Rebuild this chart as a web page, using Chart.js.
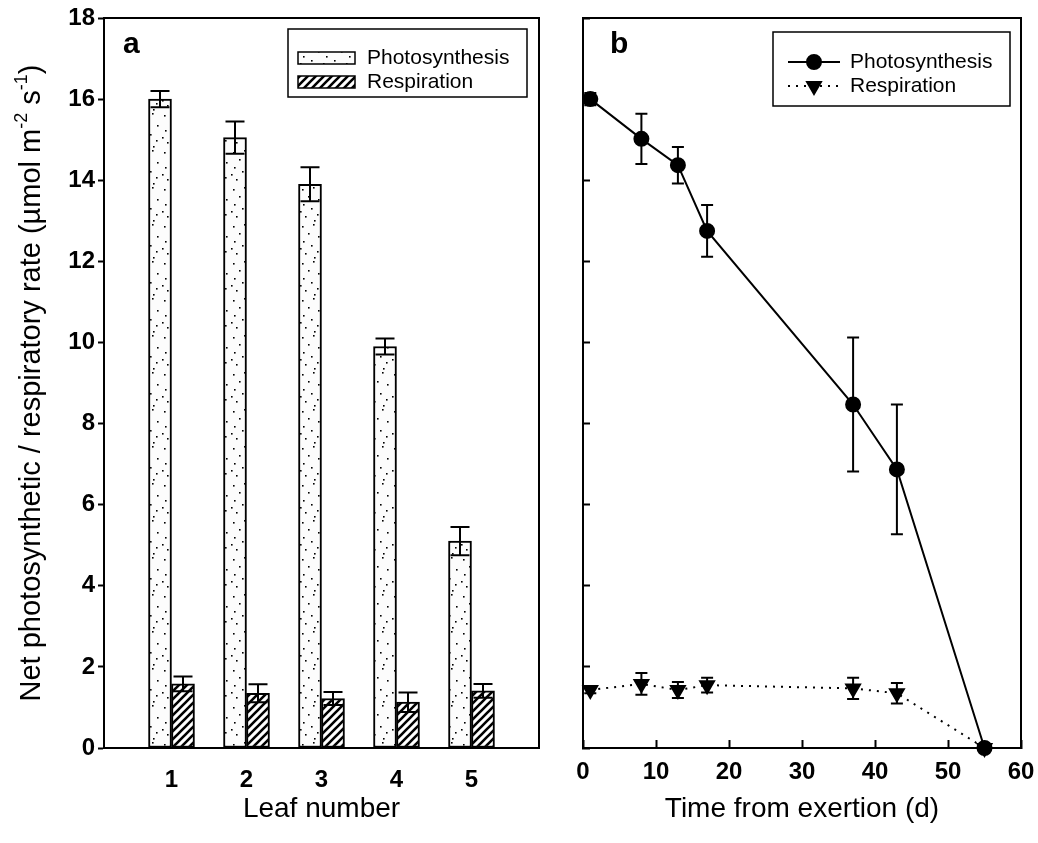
<!DOCTYPE html>
<html>
<head>
<meta charset="utf-8">
<script src="https://cdn.jsdelivr.net/npm/chart.js@4.4.1/dist/chart.umd.min.js"></script>
<style>
    html, body { margin: 0; padding: 0; background: #fff; }
    #wrap { position: relative; width: 1038px; height: 843px; }
    #boxA { position: absolute; left: 0; top: 0; width: 560px; height: 843px; }
    #boxB { position: absolute; left: 560px; top: 0; width: 478px; height: 843px; }
</style>
</head>
<body>
<div id="wrap">
    <div id="boxA"><canvas id="chartA" width="560" height="843"></canvas></div>
    <div id="boxB"><canvas id="chartB" width="478" height="843"></canvas></div>
</div>
<script>
// ==========================================================================================================
// -- Data --
// ==========================================================================================================

// Panel a : by leaf number
const leafNumbers = [1, 2, 3, 4, 5];
const leafPhoto = [16.0, 15.05, 13.9, 9.9, 5.1];
const leafPhotoErr = [0.2, 0.4, 0.42, 0.2, 0.35];
const leafResp = [1.58, 1.35, 1.22, 1.13, 1.41];
const leafRespErr = [0.18, 0.22, 0.16, 0.24, 0.17];

// Panel b : time from exertion
const days = [1, 8, 13, 17, 37, 43, 55];
const dayPhoto = [16.0, 15.02, 14.37, 12.75, 8.47, 6.87, 0];
const dayPhotoErr = [0.15, 0.62, 0.45, 0.64, 1.65, 1.6, 0];
const dayResp = [1.43, 1.58, 1.43, 1.55, 1.47, 1.35, 0];
const dayRespErr = [0.08, 0.27, 0.2, 0.18, 0.26, 0.25, 0];

// Tick labels
const rateTicks = [0, 2, 4, 6, 8, 10, 12, 14, 16, 18];
const dayTicks = [0, 10, 20, 30, 40, 50, 60];

// ==========================================================================================================
// -- Styles --
// ==========================================================================================================

const FAMILY = "'Liberation Sans', Arial, sans-serif";
const tickFont = { family: FAMILY, size: 24, weight: 'bold' };
const titleFont = { family: FAMILY, size: 28 };

// Stipple fill for photosynthesis bars ------------------------------------------------------------
function makeDots() {
    const c = document.createElement('canvas');
    c.width = 23; c.height = 37;
    const g = c.getContext('2d');
    g.fillStyle = '#fcfcfc';
    g.fillRect(0, 0, c.width, c.height);
    g.fillStyle = '#000';
    const dots = [[3, 4], [14, 2], [9, 11], [19, 14], [4, 19], [12, 23], [18, 29], [6, 31], [15, 35], [1, 26]];
    dots.forEach(([x, y]) => g.fillRect(x, y, 1.6, 1.6));
    return g.createPattern(c, 'repeat');
}

// Diagonal hatch for respiration bars -------------------------------------------------------------
function makeHatch() {
    const c = document.createElement('canvas');
    c.width = 8; c.height = 8;
    const g = c.getContext('2d');
    g.fillStyle = '#fff';
    g.fillRect(0, 0, 8, 8);
    g.strokeStyle = '#000';
    g.lineWidth = 2.6;
    g.beginPath();
    g.moveTo(-1, 9); g.lineTo(9, -1);
    g.moveTo(-1, 1); g.lineTo(1, -1);
    g.moveTo(7, 9); g.lineTo(9, 7);
    g.stroke();
    return g.createPattern(c, 'repeat');
}

const dotFill = makeDots();
const hatchFill = makeHatch();

// ==========================================================================================================
// -- Plugins --
// ==========================================================================================================

// Error bars ---------------------------------------------------------------------------------------
function drawErrors(chart) {
    const ctx = chart.ctx;
    const yScale = chart.scales.y;
    chart.data.datasets.forEach((ds, di) => {
        if (!ds.errors) return;
        const meta = chart.getDatasetMeta(di);
        meta.data.forEach((el, i) => {
            const err = ds.errors[i];
            if (!err) return;
            const v = ds.data[i].y;
            const top = yScale.getPixelForValue(v + err);
            const bot = yScale.getPixelForValue(v - err);
            const half = ds.capWidth / 2;
            ctx.save();
            ctx.strokeStyle = '#000';
            ctx.lineWidth = 2;
            ctx.beginPath();
            ctx.moveTo(el.x, top); ctx.lineTo(el.x, bot);
            ctx.moveTo(el.x - half, top); ctx.lineTo(el.x + half, top);
            ctx.moveTo(el.x - half, bot); ctx.lineTo(el.x + half, bot);
            ctx.stroke();
            ctx.restore();
        });
    });
}

const errorBars = {
    id: 'errorBars',
    beforeDatasetsDraw(chart, args, opts) { if (opts.under) drawErrors(chart); },
    afterDatasetsDraw(chart, args, opts) { if (!opts.under) drawErrors(chart); }
};

// Frame, panel letter and legend box --------------------------------------------------------------
const decor = {
    id: 'decor',
    afterDraw(chart, args, opts) {
        const ctx = chart.ctx;
        const a = chart.chartArea;
        ctx.save();
        ctx.strokeStyle = '#000';
        ctx.lineWidth = 2;
        ctx.strokeRect(a.left, a.top, a.right - a.left, a.bottom - a.top);

        // panel letter
        ctx.fillStyle = '#000';
        ctx.font = `bold 30px ${FAMILY}`;
        ctx.textBaseline = 'alphabetic';
        ctx.textAlign = 'left';
        ctx.fillText(opts.letter, a.left + opts.letterDx, 53);

        // legend box
        const lb = opts.legendBox;
        ctx.lineWidth = 1.5;
        ctx.strokeRect(lb.x, lb.y, lb.w, lb.h);
        ctx.font = `21px ${FAMILY}`;
        ctx.textBaseline = 'middle';
        chart.data.datasets.forEach((ds, i) => {
            const rowY = lb.y + opts.rowY[i];
            const sx = lb.x + 10;
            if (opts.kind === 'bar') {
                ctx.fillStyle = ds.backgroundColor;
                ctx.fillRect(sx, rowY - 6, 57, 12);
                ctx.lineWidth = 1.5;
                ctx.strokeRect(sx, rowY - 6, 57, 12);
                ctx.fillStyle = '#000';
                ctx.fillText(ds.label, sx + 69, rowY);
            } else {
                ctx.lineWidth = 2;
                ctx.setLineDash(ds.borderDash || []);
                ctx.beginPath();
                ctx.moveTo(lb.x + 15, rowY); ctx.lineTo(lb.x + 67, rowY);
                ctx.stroke();
                ctx.setLineDash([]);
                ctx.fillStyle = '#000';
                Chart.helpers.drawPoint(ctx, {
                    pointStyle: ds.pointStyle, rotation: ds.pointRotation || 0,
                    radius: ds.pointRadius, borderWidth: 1
                }, lb.x + 41, rowY);
                ctx.fillStyle = '#000';
                ctx.fillText(ds.label, lb.x + 77, rowY);
            }
        });
        ctx.restore();
    }
};

// Y axis title with superscripts ----------------------------------------------------------------
const yTitle = {
    id: 'yTitle',
    afterDraw(chart) {
        const ctx = chart.ctx;
        const a = chart.chartArea;
        const parts = [
            ['Net photosynthetic / respiratory rate (\u00b5mol m', 0],
            ['-2', 1],
            [' s', 0],
            ['-1', 1],
            [')', 0]
        ];
        const big = `29px ${FAMILY}`, small = `18px ${FAMILY}`;
        ctx.save();
        let total = 0;
        parts.forEach(([t, sup]) => { ctx.font = sup ? small : big; total += ctx.measureText(t).width; });
        ctx.translate(32, (a.top + a.bottom) / 2);
        ctx.rotate(-Math.PI / 2);
        ctx.fillStyle = '#000';
        ctx.textBaseline = 'middle';
        ctx.textAlign = 'left';
        let x = -total / 2;
        parts.forEach(([t, sup]) => {
            ctx.font = sup ? small : big;
            ctx.fillText(t, x, sup ? -10 : 0);
            x += ctx.measureText(t).width;
        });
        ctx.restore();
    }
};

// Keep label overhang from shrinking the plot area
function fixBottom(s) {
    s.height = 95;
    s.paddingLeft = 0;
    s.paddingRight = 0;
}

// ==========================================================================================================
// -- Panel a : bars --
// ==========================================================================================================

new Chart(document.getElementById('chartA'), {
    type: 'bar',
    data: {
        datasets: [
            {
                label: 'Photosynthesis',
                data: leafNumbers.map((x, i) => ({ x, y: leafPhoto[i] })),
                errors: leafPhotoErr,
                capWidth: 19,
                backgroundColor: dotFill,
                borderColor: '#000',
                borderWidth: 2,
                borderSkipped: false,
                barThickness: 23
            },
            {
                label: 'Respiration',
                data: leafNumbers.map((x, i) => ({ x, y: leafResp[i] })),
                errors: leafRespErr,
                capWidth: 19,
                backgroundColor: hatchFill,
                borderColor: '#000',
                borderWidth: 2,
                borderSkipped: false,
                barThickness: 23
            }
        ]
    },
    options: {
        responsive: false,
        animation: false,
        layout: { padding: { left: 0, right: 21, top: 18, bottom: 0 } },
        scales: {
            x: {
                type: 'linear',
                min: 0.1,
                max: 5.9,
                offset: false,
                afterBuildTicks: s => { s.ticks = leafNumbers.map(v => ({ value: v })); },
                afterFit: fixBottom,
                grid: { drawOnChartArea: false, drawTicks: false },
                border: { color: '#000', width: 2 },
                ticks: { color: '#000', font: tickFont, padding: 18, autoSkip: false, maxRotation: 0 },
                title: { display: true, text: 'Leaf number', color: '#000', font: titleFont, padding: { top: 0, bottom: 17 } }
            },
            y: {
                min: 0,
                max: 18,
                afterBuildTicks: s => { s.ticks = rateTicks.map(v => ({ value: v })); },
                afterFit: s => { s.width = 104; s.paddingTop = 0; s.paddingBottom = 0; },
                grid: { drawOnChartArea: false, drawTicks: true, tickLength: 6, color: '#000', tickWidth: 2 },
                border: { color: '#000', width: 2 },
                ticks: { color: '#000', font: tickFont, padding: 3 }
            }
        },
        plugins: {
            legend: { display: false },
            tooltip: { enabled: false },
            errorBars: { under: false },
            decor: {
                kind: 'bar', letter: 'a', letterDx: 19,
                legendBox: { x: 288, y: 29, w: 239, h: 68 },
                rowY: [29, 53]
            }
        }
    },
    plugins: [errorBars, decor, yTitle]
});

// ==========================================================================================================
// -- Panel b : time course --
// ==========================================================================================================

new Chart(document.getElementById('chartB'), {
    type: 'line',
    data: {
        datasets: [
            {
                label: 'Photosynthesis',
                data: days.map((x, i) => ({ x, y: dayPhoto[i] })),
                errors: dayPhotoErr,
                capWidth: 12,
                borderColor: '#000',
                borderWidth: 2,
                pointStyle: 'circle',
                pointRadius: 7,
                pointBackgroundColor: '#000',
                pointBorderColor: '#000',
                clip: false
            },
            {
                label: 'Respiration',
                data: days.map((x, i) => ({ x, y: dayResp[i] })),
                errors: dayRespErr,
                capWidth: 12,
                borderColor: '#000',
                borderWidth: 2,
                borderDash: [2, 6],
                pointStyle: 'triangle',
                pointRotation: 180,
                pointRadius: 8,
                pointBackgroundColor: '#000',
                pointBorderColor: '#000',
                clip: false
            }
        ]
    },
    options: {
        responsive: false,
        animation: false,
        layout: { padding: { left: 0, right: 17, top: 18, bottom: 0 } },
        scales: {
            x: {
                type: 'linear',
                min: 0,
                max: 60,
                afterBuildTicks: s => { s.ticks = dayTicks.map(v => ({ value: v })); },
                afterFit: fixBottom,
                grid: { drawOnChartArea: false, drawTicks: true, tickLength: -8, color: '#000', tickWidth: 2 },
                border: { color: '#000', width: 2 },
                ticks: { color: '#000', font: tickFont, padding: 18, autoSkip: false, maxRotation: 0 },
                title: { display: true, text: 'Time from exertion (d)', color: '#000', font: titleFont, padding: { top: 0, bottom: 17 } }
            },
            y: {
                min: 0,
                max: 18,
                afterBuildTicks: s => { s.ticks = rateTicks.map(v => ({ value: v })); },
                afterFit: s => { s.width = 23; s.paddingTop = 0; s.paddingBottom = 0; },
                grid: { drawOnChartArea: false, drawTicks: true, tickLength: -7, color: '#000', tickWidth: 2 },
                border: { color: '#000', width: 2 },
                ticks: { display: false }
            }
        },
        plugins: {
            legend: { display: false },
            tooltip: { enabled: false },
            errorBars: { under: true },
            decor: {
                kind: 'line', letter: 'b', letterDx: 27,
                legendBox: { x: 213, y: 32, w: 237, h: 74 },
                rowY: [30, 54]
            }
        }
    },
    plugins: [errorBars, decor]
});
</script>
</body>
</html>
